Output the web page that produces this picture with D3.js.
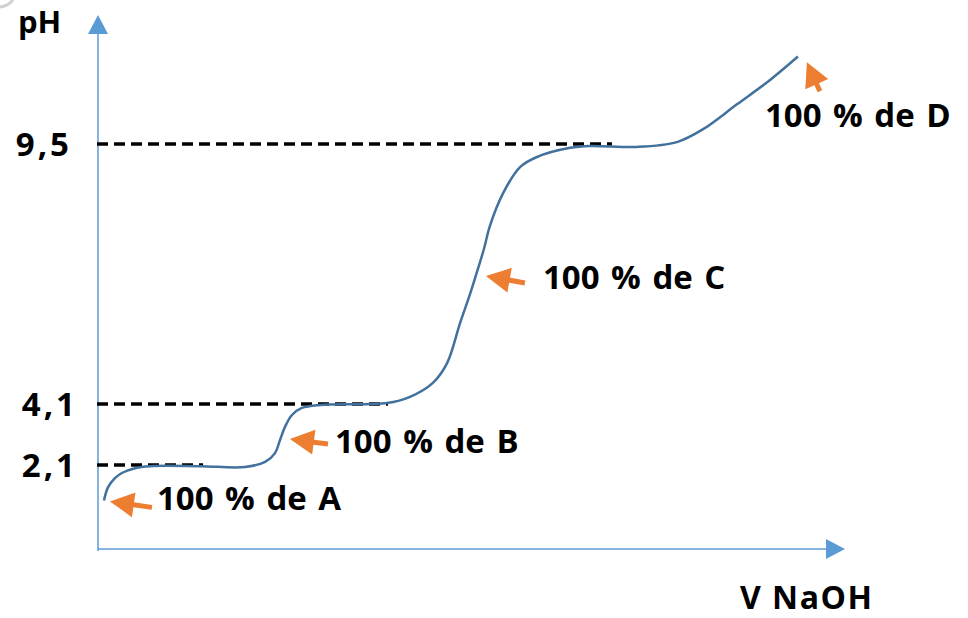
<!DOCTYPE html>
<html>
<head>
<meta charset="utf-8">
<script src="https://cdn.jsdelivr.net/npm/d3@7"></script>
<style>
  body { margin: 0; background: #fff; }
  svg text { font-family: "Comic Sans MS", "Open Sans", sans-serif; font-weight: bold; fill: #000; }
</style>
</head>
<body>
<svg id="chart" width="968" height="618"></svg>
<script>

// titration curve, V NaOH (mL, arbitrary) vs pH
var volume = [0.24, 0.40, 0.68, 0.96, 1.49, 2.09, 4.10, 5.90, 6.71, 7.11, 7.31, 7.51, 7.79, 8.19, 8.92,
              11.61, 12.53, 13.45, 14.02, 14.54, 14.94, 15.26, 15.50, 15.74, 16.27, 16.95, 17.63, 18.96,
              19.76, 21.65, 23.25, 24.30, 25.66, 26.99, 28.11];
var ph = [1.21, 1.54, 1.77, 1.90, 2.02, 2.07, 2.07, 2.05, 2.20, 2.49, 2.92, 3.35, 3.74, 3.97, 4.07,
          4.12, 4.25, 4.54, 4.95, 5.78, 6.38, 6.91, 7.32, 7.80, 8.48, 9.02, 9.23, 9.42,
          9.46, 9.44, 9.54, 9.81, 10.33, 10.84, 11.33];

// pKa-like reference levels and where the dashed lines stop
var levelPh = [9.5, 4.1, 2.1];
var levelLabels = ["9,5", "4,1", "2,1"];
var levelEndV = [20.64, 11.65, 4.22];

// arrow annotations (tip in data units)
var noteLabels = ["100 % de A", "100 % de B", "100 % de C", "100 % de D"];
var noteV = [0.48, 7.71, 15.58, 28.47];
var notePh = [1.19, 2.95, 6.76, 11.21];

var svg = d3.select("#chart");

var x = d3.scaleLinear().domain([0, 30]).range([98, 845]);
var y = d3.scaleLinear().domain([0, 2.1, 4.1, 9.5, 12.2]).range([549, 465, 404, 144, 15]);

var axisColor = "#5B9BD5";
var x0 = x(0), y0 = y(0);

// faint arc in the corner of the original
svg.append("path")
   .attr("d", "M0,7 Q8,6 13,0")
   .attr("fill", "none")
   .attr("stroke", "#d0d0d0")
   .attr("stroke-width", 3);

// axes
svg.append("line")
   .attr("x1", x0).attr("y1", y0 + 2)
   .attr("x2", x0).attr("y2", y(12.2) + 18)
   .attr("stroke", axisColor).attr("stroke-width", 1.5);
svg.append("path")
   .attr("d", "M" + (x0 - 10) + "," + (y(12.2) + 19) + "L" + (x0 + 10) + "," + (y(12.2) + 19) + "L" + x0 + "," + y(12.2) + "Z")
   .attr("fill", axisColor);

svg.append("line")
   .attr("x1", x0).attr("y1", y0)
   .attr("x2", x(30) - 18).attr("y2", y0)
   .attr("stroke", axisColor).attr("stroke-width", 1.5);
svg.append("path")
   .attr("d", "M" + (x(30) - 19) + "," + (y0 - 10) + "L" + (x(30) - 19) + "," + (y0 + 10) + "L" + x(30) + "," + y0 + "Z")
   .attr("fill", axisColor);

svg.append("text").attr("x", 18).attr("y", 33).style("font-size", "31px").text("pH");
svg.append("text").attr("x", 740).attr("y", 609)
   .style("font-size", "32px").style("letter-spacing", "1.5px")
   .text("V NaOH");

// dashed reference lines
levelPh.forEach(function(p, i){
  svg.append("line")
     .attr("x1", x0 - 1).attr("y1", y(p))
     .attr("x2", x(levelEndV[i])).attr("y2", y(p))
     .attr("stroke", "#000").attr("stroke-width", 3.5)
     .attr("stroke-dasharray", "11,6");
  svg.append("text")
     .attr("x", i == 0 ? 72 : 78).attr("y", y(p))
     .attr("dy", "0.36em")
     .attr("text-anchor", "end")
     .style("font-size", "33px")
     .style("letter-spacing", "3px")
     .text(levelLabels[i]);
});

// curve
var valueline = d3.line()
                  .x(function(d, i) { return x(volume[i]); })
                  .y(function(d) { return y(d); })
                  .curve(d3.curveCatmullRom.alpha(0.5));

svg.append("path")
   .datum(ph)
   .attr("fill", "none")
   .attr("stroke", "#41719C")
   .attr("stroke-width", 2.5)
   .attr("d", valueline);

// orange arrows + labels
var tail = [[42, 6], [38, 5], [39, 7], [13, 29]];
var textPos = [[47, -3], [45, 2], [57, 1], [-42, 53]];

function drawArrow(tx, ty, sx, sy){
  var dx = tx - sx, dy = ty - sy;
  var len = Math.sqrt(dx * dx + dy * dy);
  var ux = dx / len, uy = dy / len;
  var headL = 24, headW = 12.5;
  var bx = tx - ux * headL, by = ty - uy * headL;
  svg.append("line")
     .attr("x1", sx).attr("y1", sy)
     .attr("x2", bx + ux * 2).attr("y2", by + uy * 2)
     .attr("stroke", "#ED7D31").attr("stroke-width", 5);
  svg.append("path")
     .attr("d", "M" + tx + "," + ty +
                "L" + (bx - uy * headW) + "," + (by + ux * headW) +
                "L" + (bx + uy * headW) + "," + (by - ux * headW) + "Z")
     .attr("fill", "#ED7D31");
}

noteLabels.forEach(function(label, i){
  var tx = x(noteV[i]), ty = y(notePh[i]);
  drawArrow(tx, ty, tx + tail[i][0], ty + tail[i][1]);
  svg.append("text")
     .attr("x", tx + textPos[i][0]).attr("y", ty + textPos[i][1])
     .attr("dy", "0.36em")
     .style("font-size", "33px")
     .style("word-spacing", "3px")
     .text(label);
});

</script>
</body>
</html>
